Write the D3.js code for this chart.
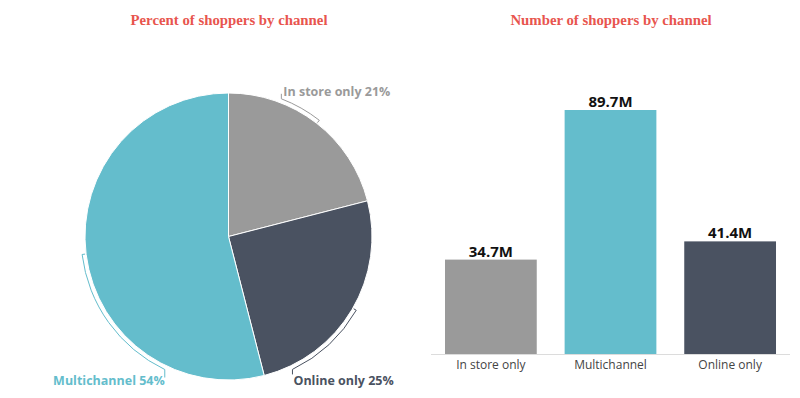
<!DOCTYPE html>
<html>
<head>
<meta charset="utf-8">
<script src="https://cdn.jsdelivr.net/npm/d3@7"></script>
<style>
  body { margin: 0; background: #fff; }
  svg { display: block; }
</style>
</head>
<body>
<svg width="800" height="398"></svg>
<script>
// data
var channels = ["In store only", "Multichannel", "Online only"];
var sharePct = [21, 54, 25];          // percent of shoppers
var shoppersM = [34.7, 89.7, 41.4];   // millions of shoppers
var pieOrder = ["In store only", "Online only", "Multichannel"];
var colors = ["#9a9a9a", "#64bdcc", "#4a5261"];

var svg = d3.select("svg"),
    titleColor = "#e8554e",
    sansFont = "'Open Sans', sans-serif";

var color = d3.scaleOrdinal().domain(channels).range(colors);

// titles
svg.append("text")
    .attr("x", 229).attr("y", 25)
    .attr("text-anchor", "middle")
    .attr("font-family", "'Liberation Serif', serif")
    .attr("font-weight", "bold")
    .attr("font-size", 14.8)
    .attr("fill", titleColor)
    .text("Percent of shoppers by channel");

svg.append("text")
    .attr("x", 611).attr("y", 25)
    .attr("text-anchor", "middle")
    .attr("font-family", "'Liberation Serif', serif")
    .attr("font-weight", "bold")
    .attr("font-size", 14.8)
    .attr("fill", titleColor)
    .text("Number of shoppers by channel");

// ---- pie ----
var cx = 228.5, cy = 236.5, radius = 143.5, bracketR = 147.5;
var pieData = pieOrder.map(function(c) {
    return { channel: c, value: sharePct[channels.indexOf(c)] };
});

var arcs = d3.pie().sort(null).value(function(d) { return d.value; })(pieData);
var arc = d3.arc().innerRadius(0).outerRadius(radius);

var pieG = svg.append("g").attr("transform", "translate(" + cx + "," + cy + ")");

pieG.selectAll("path.slice")
    .data(arcs)
    .enter().append("path")
    .attr("class", "slice")
    .attr("d", arc)
    .attr("fill", function(d) { return color(d.data.channel); })
    .attr("stroke", "#fff")
    .attr("stroke-width", 1);

// label brackets: [label end angle, far end angle] in degrees, label offset, anchor
var brackets = {
    "In store only": { from: 21, to: 38, hook: -5, dx: 2, dy: -3, anchor: "start" },
    "Online only":   { from: 154.3, to: 120, hook: 5, dx: 1, dy: 16, anchor: "start" },
    "Multichannel":  { from: 205.6, to: 263, hook: 8, dx: 0, dy: 15.5, anchor: "end" }
};

function pt(r, deg) {
    var a = deg * Math.PI / 180;
    return [r * Math.sin(a), -r * Math.cos(a)];
}

arcs.forEach(function(d) {
    var b = brackets[d.data.channel],
        c = color(d.data.channel);
    var p0 = pt(bracketR, b.from),
        pIn = pt(radius + 1, b.to);

    var path = d3.path();
    path.moveTo(p0[0], p0[1] + b.hook);
    path.lineTo(p0[0], p0[1]);
    var a0 = (b.from - 90) * Math.PI / 180,
        a1 = (b.to - 90) * Math.PI / 180;
    path.arc(0, 0, bracketR, a0, a1, b.to < b.from);
    path.lineTo(pIn[0], pIn[1]);

    pieG.append("path")
        .attr("d", path.toString())
        .attr("fill", "none")
        .attr("stroke", c)
        .attr("stroke-width", 1);

    pieG.append("text")
        .attr("x", p0[0] + b.dx)
        .attr("y", p0[1] + b.dy)
        .attr("text-anchor", b.anchor)
        .attr("font-family", sansFont)
        .attr("font-weight", "bold")
        .attr("font-size", 12.5)
        .attr("fill", c)
        .text(d.data.channel + " " + d.data.value + "%");
});

// ---- bars ----
var x = d3.scaleBand()
    .domain(channels)
    .range([431, 790])
    .paddingInner(0.233)
    .paddingOuter(0.117);

var y = d3.scaleLinear()
    .domain([0, d3.max(shoppersM)])
    .range([354, 110]);

var barData = channels.map(function(c, i) { return { channel: c, value: shoppersM[i] }; });

svg.selectAll("rect.bar")
    .data(barData)
    .enter().append("rect")
    .attr("class", "bar")
    .attr("x", function(d) { return x(d.channel); })
    .attr("y", function(d) { return y(d.value); })
    .attr("width", x.bandwidth())
    .attr("height", function(d) { return y(0) - y(d.value); })
    .attr("fill", function(d) { return color(d.channel); });

svg.selectAll("text.value")
    .data(barData)
    .enter().append("text")
    .attr("class", "value")
    .attr("x", function(d) { return x(d.channel) + x.bandwidth() / 2; })
    .attr("y", function(d) { return y(d.value) - 3; })
    .attr("text-anchor", "middle")
    .attr("font-family", sansFont)
    .attr("font-weight", "bold")
    .attr("font-size", 15)
    .attr("fill", "#111")
    .text(function(d) { return d.value + "M"; });

// x axis
var xAxis = svg.append("g")
    .attr("transform", "translate(0," + y(0) + ")")
    .call(d3.axisBottom(x).tickSize(0).tickPadding(6));

xAxis.select(".domain").attr("stroke", "#dcdcdc").attr("d", "M431,0.5H790");
xAxis.selectAll("text")
    .attr("font-family", sansFont)
    .attr("font-size", 12)
    .attr("fill", "#444");
</script>
</body>
</html>
